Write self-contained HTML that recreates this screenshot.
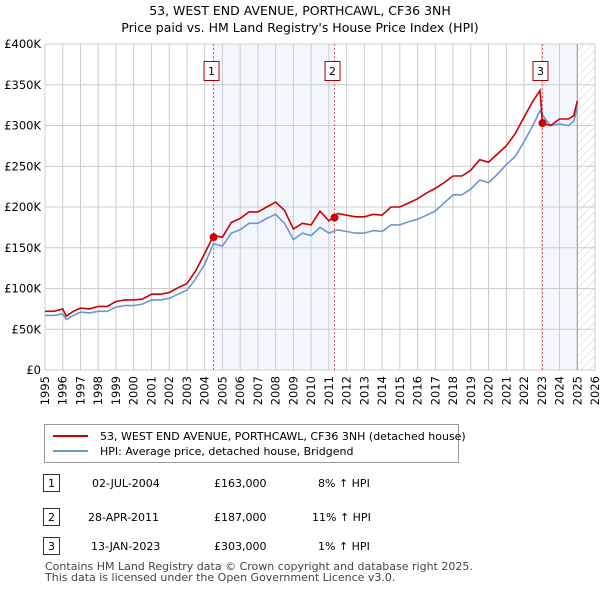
<!DOCTYPE html>
<html><head><meta charset="utf-8"><style>
body{margin:0;background:#fff;font-family:"Liberation Sans","DejaVu Sans",sans-serif;}
svg text{font-family:"DejaVu Sans","Liberation Sans",sans-serif;}
</style></head><body>
<svg width="600" height="590" xmlns="http://www.w3.org/2000/svg">
<defs><pattern id="hatch" width="6" height="6" patternUnits="userSpaceOnUse" patternTransform="rotate(45)"><line x1="0" y1="0" x2="0" y2="6" stroke="#ccc" stroke-width="1"/></pattern></defs>
<text x="300" y="15" text-anchor="middle" font-size="12.5">53, WEST END AVENUE, PORTHCAWL, CF36 3NH</text>
<text x="300" y="32" text-anchor="middle" font-size="12.5">Price paid vs. HM Land Registry's House Price Index (HPI)</text>
<g id="plot"></g>
<g>
<rect x="44.5" y="424.5" width="414" height="38" fill="#fff" stroke="#999"/>
<line x1="53" y1="436" x2="88" y2="436" stroke="#cc0000" stroke-width="2"/>
<text x="100" y="440" font-size="11">53, WEST END AVENUE, PORTHCAWL, CF36 3NH (detached house)</text>
<line x1="53" y1="451" x2="88" y2="451" stroke="#6a96d4" stroke-width="2"/>
<text x="100" y="455" font-size="11">HPI: Average price, detached house, Bridgend</text>
</g>
<g font-size="11">
<rect x="43.5" y="474.5" width="16" height="17" fill="#fff" stroke="#333"/><text x="51.5" y="487" text-anchor="middle">1</text>
<text x="92" y="487">02-JUL-2004</text><text x="214" y="487">£163,000</text><text x="318" y="487">8% ↑ HPI</text>
<rect x="43.5" y="508.5" width="16" height="17" fill="#fff" stroke="#333"/><text x="51.5" y="521" text-anchor="middle">2</text>
<text x="88" y="521">28-APR-2011</text><text x="214" y="521">£187,000</text><text x="312" y="521">11% ↑ HPI</text>
<rect x="43.5" y="537.5" width="16" height="17" fill="#fff" stroke="#333"/><text x="51.5" y="550" text-anchor="middle">3</text>
<text x="91" y="550">13-JAN-2023</text><text x="214" y="550">£303,000</text><text x="318" y="550">1% ↑ HPI</text>
</g>
<text x="45" y="570" font-size="11" fill="#444">Contains HM Land Registry data © Crown copyright and database right 2025.</text>
<text x="45" y="581" font-size="11" fill="#444">This data is licensed under the Open Government Licence v3.0.</text>
</svg>
<script>
const yTicks=[0,50,100,150,200,250,300,350,400];
const yTickLabels=["£0","£50K","£100K","£150K","£200K","£250K","£300K","£350K","£400K"];
const years=[1995,1996,1997,1998,1999,2000,2001,2002,2003,2004,2005,2006,2007,2008,2009,2010,2011,2012,2013,2014,2015,2016,2017,2018,2019,2020,2021,2022,2023,2024,2025,2026];
const saleDates=[2004.5,2011.32,2023.04];
const saleValues=[163,187,303];
const saleLabels=["1","2","3"];
const hpiX=[1995,1995.5,1996,1996.2,1996.6,1997,1997.5,1998,1998.5,1999,1999.5,2000,2000.5,2001,2001.5,2002,2002.5,2003,2003.5,2004,2004.5,2005,2005.5,2006,2006.5,2007,2007.5,2008,2008.5,2009,2009.5,2010,2010.5,2011,2011.5,2012,2012.5,2013,2013.5,2014,2014.5,2015,2015.5,2016,2016.5,2017,2017.5,2018,2018.5,2019,2019.5,2020,2020.5,2021,2021.5,2022,2022.5,2022.9,2023.2,2023.5,2024,2024.5,2024.8,2025];
const hpiY=[67,67,69,62,67,71,70,72,72,77,79,79,81,86,86,88,93,98,112,130,155,152,168,172,180,180,186,191,180,160,168,165,175,168,172,170,168,168,171,170,178,178,182,185,190,195,205,215,215,222,233,230,240,252,262,280,300,318,308,300,302,300,305,322];
const priceX=[1995,1995.5,1996,1996.2,1996.6,1997,1997.5,1998,1998.5,1999,1999.5,2000,2000.5,2001,2001.5,2002,2002.5,2003,2003.5,2004,2004.5,2005,2005.5,2006,2006.5,2007,2007.5,2008,2008.5,2009,2009.5,2010,2010.5,2011,2011.5,2012,2012.5,2013,2013.5,2014,2014.5,2015,2015.5,2016,2016.5,2017,2017.5,2018,2018.5,2019,2019.5,2020,2020.5,2021,2021.5,2022,2022.5,2022.9,2023.04,2023.5,2024,2024.5,2024.8,2025];
const priceY=[72,72,75,66,72,76,75,78,78,84,86,86,87,93,93,95,101,106,122,143,165,163,181,186,194,194,200,206,196,173,180,178,195,183,192,190,188,188,191,190,200,200,205,210,217,223,230,238,238,245,258,255,265,275,290,310,330,343,303,300,308,308,312,330];
const ns="http://www.w3.org/2000/svg";
const X0=45,X1=595,Y0=370,Y1=44;
const xs=v=>X0+(v-1995)/(2026-1995)*(X1-X0);
const ys=v=>Y0-v/400*(Y0-Y1);
const g=document.getElementById('plot');
function mk(t,a){const e=document.createElementNS(ns,t);for(const k in a)e.setAttribute(k,a[k]);g.appendChild(e);return e;}
let e;
e=mk('rect',{x:xs(saleDates[0]),y:Y1,width:xs(saleDates[1])-xs(saleDates[0]),height:Y0-Y1,fill:'#eef3fc',opacity:0.7});


e=mk('rect',{x:xs(saleDates[2]),y:Y1,width:xs(2025)-xs(saleDates[2]),height:Y0-Y1,fill:'#eef3fc',opacity:0.7});


e=mk('rect',{x:xs(2025),y:Y1,width:xs(2026)-xs(2025),height:Y0-Y1,fill:'url(#hatch)'});


years.forEach(y=>{e=mk('line',{x1:xs(y),x2:xs(y),y1:Y1,y2:Y0,stroke:'#ccc'});


e=mk('text',{x:0,y:0,'font-size':11.5,'text-anchor':'end',transform:`translate(${xs(y)+4},${Y0+6}) rotate(-90)`});e.textContent=y;

});
yTicks.forEach((v,i)=>{e=mk('line',{x1:X0,x2:X1,y1:ys(v),y2:ys(v),stroke:'#ccc'});


e=mk('text',{x:X0-4,y:ys(v)+4,'font-size':11.5,'text-anchor':'end'});e.textContent=yTickLabels[i];

});
e=mk('line',{x1:xs(2025),x2:xs(2025),y1:Y1,y2:Y0,stroke:'#999'});


saleDates.forEach((d,i)=>{e=mk('line',{x1:xs(d),x2:xs(d),y1:Y1,y2:Y0,stroke:'#e06060','stroke-dasharray':'2,2'});


e=mk('rect',{x:xs(d)-9.5,y:61.5,width:15,height:19,fill:'#fff',stroke:'#aa0000'});


e=mk('text',{x:xs(d)-2,y:75,'font-size':11,'text-anchor':'middle'});e.textContent=saleLabels[i];

});
e=mk('path',{d:hpiX.map((x,i)=>(i?'L':'M')+xs(x).toFixed(1)+','+ys(hpiY[i]).toFixed(1)).join(''),fill:'none',stroke:'#6a96d4','stroke-width':1.6});


e=mk('path',{d:priceX.map((x,i)=>(i?'L':'M')+xs(x).toFixed(1)+','+ys(priceY[i]).toFixed(1)).join(''),fill:'none',stroke:'#cc0000','stroke-width':1.6});


saleDates.forEach((d,i)=>{e=mk('circle',{cx:xs(d),cy:ys(saleValues[i]),r:4,fill:'#cc0000'});

});
</script>
</body></html>
